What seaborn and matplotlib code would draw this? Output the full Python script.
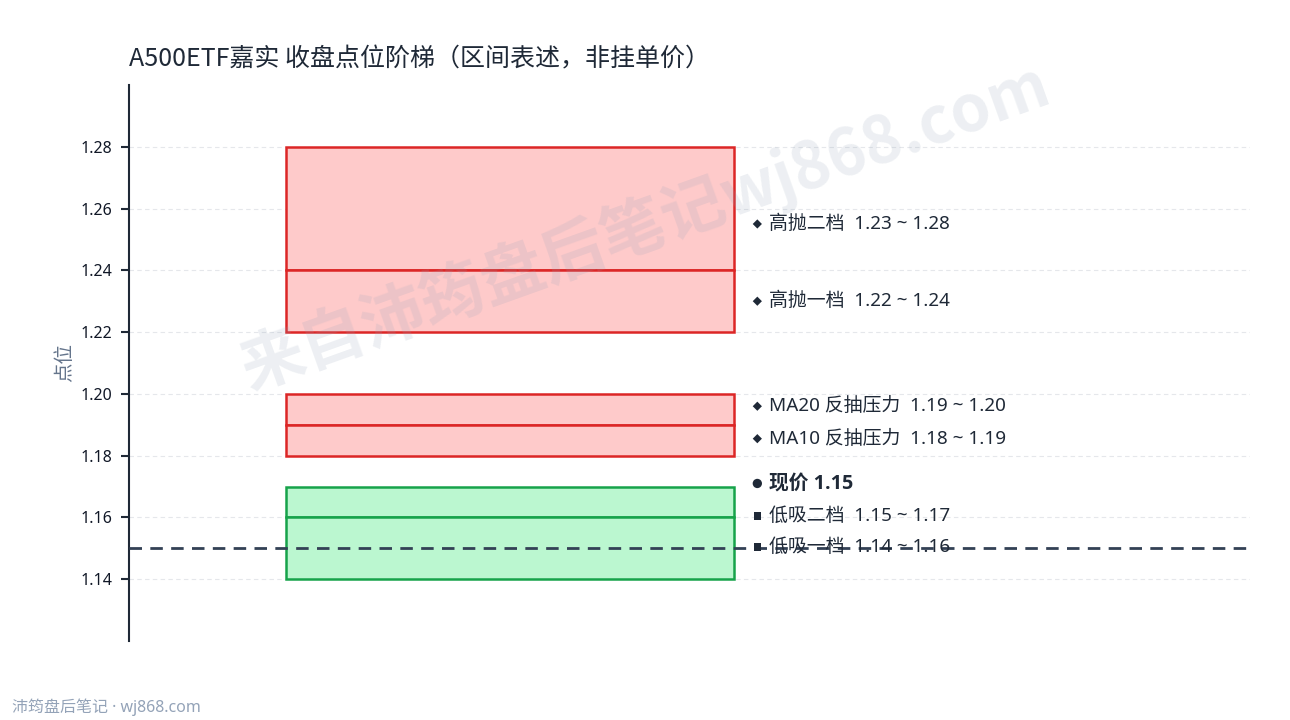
import matplotlib
matplotlib.use("Agg")
import matplotlib.pyplot as plt
import seaborn as sns
import pandas as pd
import numpy as np

# ---- data ----
title = "A500ETF嘉实 收盘点位阶梯（区间表述，非挂单价）"
ylabel = "点位"
footer = "沛筠盘后笔记 · wj868.com"
watermark = "来自沛筠盘后笔记wj868.com"

rect_names = ["高抛二档", "高抛一档", "MA20 反抽压力", "MA10 反抽压力", "低吸二档", "低吸一档"]
rect_low = [1.24, 1.22, 1.19, 1.18, 1.16, 1.14]
rect_high = [1.28, 1.24, 1.20, 1.19, 1.17, 1.16]
rect_kind = ["sell", "sell", "sell", "sell", "buy", "buy"]

label_names = ["高抛二档", "高抛一档", "MA20 反抽压力", "MA10 反抽压力", "低吸二档", "低吸一档"]
label_lo = [1.23, 1.22, 1.19, 1.18, 1.15, 1.14]
label_hi = [1.28, 1.24, 1.20, 1.19, 1.17, 1.16]
label_y = [1.255, 1.23, 1.196, 1.1855, 1.1605, 1.1505]
label_marker = ["D", "D", "D", "D", "s", "s"]

price = 1.15
price_label = "现价 1.15"
price_label_y = 1.171

yticks = [1.14, 1.16, 1.18, 1.20, 1.22, 1.24, 1.26, 1.28]
ylim = (1.12, 1.30)

# ---- style ----
sns.set_theme(style="white")
plt.rcParams["font.family"] = ["Noto Sans", "Noto Sans CJK SC", "DejaVu Sans"]
cjk = ["Noto Sans CJK SC", "DejaVu Sans"]

fig = plt.figure(figsize=(12.9, 7.2), dpi=100)
ax = fig.add_axes([0.1, 0.1097, 0.869, 0.7723])
ax.set_xlim(0, 1)
ax.set_ylim(*ylim)

fill = {"sell": "#fecaca", "buy": "#bbf7d0"}
edge = {"sell": "#dc2626", "buy": "#16a34a"}

df = pd.DataFrame({"name": rect_names, "lo": rect_low, "hi": rect_high, "kind": rect_kind})
for _, r in df.iterrows():
    ax.bar(0.34, r.hi - r.lo, bottom=r.lo, width=0.4,
           color=fill[r.kind], edgecolor=edge[r.kind], linewidth=1.8, zorder=2)

# current price dashed line
ax.axhline(price, color="#334155", lw=2, dashes=(4.5, 3), zorder=4)

# labels
mx, tx = 0.5605, 0.5705
lab = pd.DataFrame({"x": [mx] * len(label_y), "y": label_y, "m": label_marker})
for m, sub in lab.groupby("m"):
    sns.scatterplot(data=sub, x="x", y="y", marker=m, s=22 if m == "D" else 30,
                    color="#1f2937", edgecolor="none", ax=ax, zorder=5, legend=False)
for n, lo, hi, y in zip(label_names, label_lo, label_hi, label_y):
    ax.text(tx, y, f"{n}  {lo:.2f} ~ {hi:.2f}", fontsize=13.6, color="#1f2937",
            va="center", ha="left", zorder=5)
sns.scatterplot(x=[mx], y=[price_label_y], marker="o", s=45, color="#1f2937",
                edgecolor="none", ax=ax, zorder=5, legend=False)
ax.text(tx, price_label_y, price_label, fontsize=14.2, fontweight="bold",
        color="#1f2937", va="center", ha="left", zorder=5,
        family=["Open Sans", "Noto Sans CJK SC", "DejaVu Sans"])

# axes styling
ax.set_yticks(yticks)
ax.set_yticklabels([f"{v:.2f}" for v in yticks], fontsize=11.5, color="#111827")
ax.set_xticks([])
ax.set_xlabel("")
ax.set_ylabel(ylabel, fontsize=14, color="#64748b", labelpad=4, family=cjk)
ax.grid(axis="y", color="#e5e7eb", linestyle=(0, (4, 3)), lw=0.8, zorder=0)
ax.set_axisbelow(True)
for s in ["top", "right", "bottom"]:
    ax.spines[s].set_visible(False)
ax.spines["left"].set_color("#1f2937")
ax.spines["left"].set_linewidth(1.5)
ax.tick_params(axis="y", which="major", left=True, length=6, width=1.5, color="#1f2937", pad=6)

fig.text(0.1, 0.917, title, fontsize=18, color="#1f2937", ha="left", va="center", family=cjk)
fig.text(0.0093, 0.018, footer, fontsize=11.5, color="#94a3b8", ha="left", va="center")

fig.text(0.5, 0.685, watermark, fontsize=46, fontweight="bold", color="#94a3b8",
         alpha=0.17, rotation=19.7, ha="center", va="center", zorder=10, family=cjk)

fig.savefig("out.png", dpi=100)
